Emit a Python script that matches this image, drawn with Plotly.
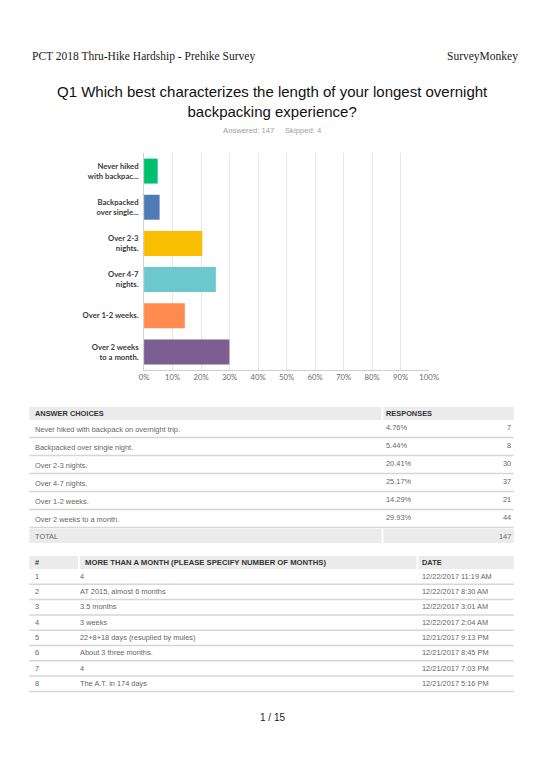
import plotly.graph_objects as go

W, H = 550, 777

# ---------------- data ----------------
bar_labels = ["Never hiked<br>with backpac...", "Backpacked<br>over single...", "Over 2-3<br>nights.",
              "Over 4-7<br>nights.", "Over 1-2 weeks.", "Over 2 weeks<br>to a month."]
choices = ["Never hiked with backpack on overnight trip.", "Backpacked over single night.",
           "Over 2-3 nights.", "Over 4-7 nights.", "Over 1-2 weeks.", "Over 2 weeks to a month."]
pcts = [4.76, 5.44, 20.41, 25.17, 14.29, 29.93]
counts = [7, 8, 30, 37, 21, 44]
total = 147
answered = 147
skipped = 4
bar_colors = ["#00BF6F", "#507CB6", "#F9BE00", "#6BC8CD", "#FF8B4F", "#7D5E90"]
x_ticks = [0, 10, 20, 30, 40, 50, 60, 70, 80, 90, 100]

other_ids = [1, 2, 3, 4, 5, 6, 7, 8]
other_texts = ["4", "AT 2015, almost 6 months", "3.5 months", "3 weeks",
               "22+8+18 days (resuplied by mules)", "About 3 three months.", "4", "The A.T. in 174 days"]
other_dates = ["12/22/2017 11:19 AM", "12/22/2017 8:30 AM", "12/22/2017 3:01 AM", "12/22/2017 2:04 AM",
               "12/21/2017 9:13 PM", "12/21/2017 8:45 PM", "12/21/2017 7:03 PM", "12/21/2017 5:16 PM"]

page_title = "PCT 2018 Thru-Hike Hardship - Prehike Survey"
brand = "SurveyMonkey"
question = "Q1 Which best characterizes the length of your longest overnight<br>backpacking experience?"
page_no = "1 / 15"


def px(x):
    return x / W


def py(y):
    return 1 - y / H


fig = go.Figure()
fig.add_trace(go.Bar(
    x=pcts, y=bar_labels, orientation="h",
    marker=dict(color=bar_colors, line=dict(width=0)),
    hoverinfo="skip", showlegend=False,
))

SANS = "Liberation Sans, Arial, sans-serif"
ann = []
shapes = []

# header
ann.append(dict(text=page_title, x=px(26), y=py(57), xanchor="left", yanchor="middle",
                font=dict(family="Liberation Serif", size=11.5, color="#222")))
ann.append(dict(text=brand, x=px(529), y=py(57), xanchor="right", yanchor="middle",
                font=dict(family="Liberation Serif", size=11.5, color="#222")))
ann.append(dict(text=question, x=0.5, y=py(101), xanchor="center", yanchor="middle",
                font=dict(family=SANS, size=15, color="#111")))
ann.append(dict(text=f"Answered: {answered}&nbsp;&nbsp;&nbsp;&nbsp;&nbsp;Skipped: {skipped}", x=0.5, y=py(131),
                xanchor="center", yanchor="middle",
                font=dict(family=SANS, size=7.7, color="#A0A0A0")))

# ---------------- table 1 ----------------
L, R = 25, 523
split1 = 388
hdr_top, hdr_bot = 407, 420
row_h = 18
LX = 29      # left text x (compensating annotation padding)
RX = 522
shapes.append(dict(type="rect", xref="paper", yref="paper", x0=px(L), x1=px(split1 - 1),
                   y0=py(hdr_bot), y1=py(hdr_top), fillcolor="#EBEBEB", line=dict(width=0), layer="below"))
shapes.append(dict(type="rect", xref="paper", yref="paper", x0=px(split1 + 1), x1=px(R),
                   y0=py(hdr_bot), y1=py(hdr_top), fillcolor="#EBEBEB", line=dict(width=0), layer="below"))
hf = dict(family=SANS, size=7.4, color="#333")
ann.append(dict(text="<b>ANSWER CHOICES</b>", x=px(LX), y=py(413.5), xanchor="left", yanchor="middle", font=hf))
ann.append(dict(text="<b>RESPONSES</b>", x=px(390), y=py(413.5), xanchor="left", yanchor="middle", font=hf))
cf = dict(family=SANS, size=7.4, color="#666")
for i, (c, p, n) in enumerate(zip(choices, pcts, counts)):
    top = hdr_bot + i * row_h
    yc = top + 9
    ann.append(dict(text=c, x=px(LX), y=py(yc + 0.5), xanchor="left", yanchor="middle", font=cf))
    ann.append(dict(text=f"{p:.2f}%", x=px(390), y=py(yc - 1.5), xanchor="left", yanchor="middle", font=cf))
    ann.append(dict(text=str(n), x=px(RX), y=py(yc - 1.5), xanchor="right", yanchor="middle", font=cf))
    ly = top + row_h - 0.5
    shapes.append(dict(type="line", xref="paper", yref="paper", x0=px(L), x1=px(R), y0=py(ly), y1=py(ly),
                       line=dict(color="#D6D6D6", width=1.5)))
tot_top = hdr_bot + len(choices) * row_h
shapes.append(dict(type="rect", xref="paper", yref="paper", x0=px(L), x1=px(split1 - 1),
                   y0=py(tot_top + 15), y1=py(tot_top + 1), fillcolor="#EBEBEB", line=dict(width=0), layer="below"))
shapes.append(dict(type="rect", xref="paper", yref="paper", x0=px(split1 + 1), x1=px(R),
                   y0=py(tot_top + 15), y1=py(tot_top + 1), fillcolor="#EBEBEB", line=dict(width=0), layer="below"))
ann.append(dict(text="TOTAL", x=px(LX), y=py(tot_top + 8), xanchor="left", yanchor="middle", font=cf))
ann.append(dict(text=str(total), x=px(RX), y=py(tot_top + 8), xanchor="right", yanchor="middle", font=cf))

# ---------------- table 2 ----------------
h2_top, h2_bot = 556, 569
c1, c2 = 76, 424
for a, b in [(L, c1 - 1), (c1 + 1, c2 - 1), (c2 + 1, R)]:
    shapes.append(dict(type="rect", xref="paper", yref="paper", x0=px(a), x1=px(b),
                       y0=py(h2_bot), y1=py(h2_top), fillcolor="#EBEBEB", line=dict(width=0), layer="below"))
ann.append(dict(text="<b>#</b>", x=px(LX), y=py(562.5), xanchor="left", yanchor="middle", font=hf))
ann.append(dict(text="<b>MORE THAN A MONTH (PLEASE SPECIFY NUMBER OF MONTHS)</b>", x=px(80), y=py(562.5),
                xanchor="left", yanchor="middle", font=dict(family=SANS, size=7.7, color="#333")))
ann.append(dict(text="<b>DATE</b>", x=px(427), y=py(562.5), xanchor="left", yanchor="middle", font=hf))
row2 = 15.3
for i, (k, t, d) in enumerate(zip(other_ids, other_texts, other_dates)):
    top = h2_bot + i * row2
    yc = top + 7.3
    ann.append(dict(text=str(k), x=px(LX), y=py(yc), xanchor="left", yanchor="middle", font=cf))
    ann.append(dict(text=t, x=px(75), y=py(yc), xanchor="left", yanchor="middle", font=cf))
    ann.append(dict(text=d, x=px(427), y=py(yc), xanchor="left", yanchor="middle", font=cf))
    ly = top + row2
    shapes.append(dict(type="line", xref="paper", yref="paper", x0=px(L), x1=px(R), y0=py(ly), y1=py(ly),
                       line=dict(color="#D6D6D6", width=1.5)))

ann.append(dict(text=page_no, x=0.5, y=py(717), xanchor="center", yanchor="middle",
                font=dict(family=SANS, size=10, color="#222")))

for a in ann:
    a.setdefault("showarrow", False)
    a.setdefault("xref", "paper")
    a.setdefault("yref", "paper")

fig.update_layout(
    width=W, height=H, margin=dict(l=0, r=0, t=0, b=0, pad=0),
    paper_bgcolor="white", plot_bgcolor="white",
    bargap=0.31,
    annotations=ann, shapes=shapes,
    xaxis=dict(domain=[px(143), px(436)], range=[0, 100], tickvals=x_ticks,
               ticktext=[f"{v}%" for v in x_ticks], showgrid=True, gridcolor="#E6E6E6", gridwidth=1,
               zeroline=False, showline=True, linecolor="#D0D0D0", linewidth=1, ticks="",
               tickfont=dict(family="Lato", size=7.7, color="#6B6B6B"), fixedrange=True),
    yaxis=dict(domain=[py(370), py(153)], autorange="reversed", showgrid=False, zeroline=False,
               showline=True, linecolor="#D0D0D0", linewidth=1, ticks="", ticklabelstandoff=3,
               tickfont=dict(family="Lato", size=7.7, color="#3A3A3A", weight="bold"), fixedrange=True),
)

fig.write_html("out.html", config={"displayModeBar": False},
               post_script="document.body.style.margin='0';document.body.style.overflow='hidden';")
